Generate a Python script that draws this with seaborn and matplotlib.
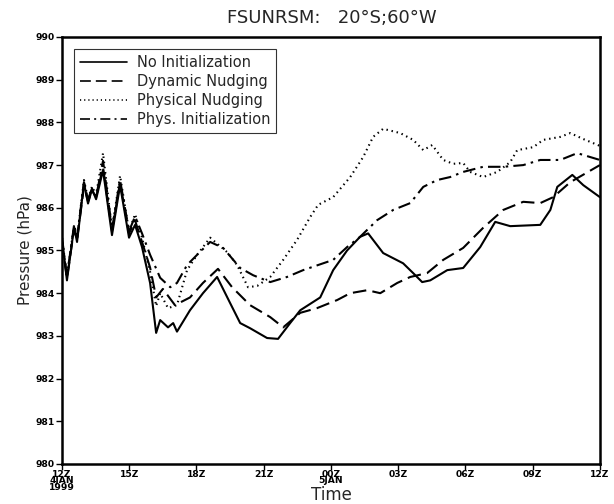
import pandas as pd
import seaborn as sns
from matplotlib import pyplot as plt

# hours since 12Z 4 JAN 1999, pressure in hPa
hours_ni = [0.0, 0.22, 0.54, 0.67, 0.98, 1.16, 1.34, 1.52, 1.83, 2.23, 2.59, 2.99, 3.26, 3.57,
            3.93, 4.2, 4.38, 4.73, 4.96, 5.13, 5.71, 6.29, 6.92, 7.5, 7.95, 8.39, 9.15, 9.64,
            10.18, 10.63, 11.52, 12.1, 12.72, 13.3, 13.66, 14.33, 15.22, 15.67, 16.07, 16.43,
            17.19, 17.9, 18.66, 19.33, 20.0, 21.34, 21.79, 22.1, 22.77, 23.26, 24.0]
p_ni = [985.25, 984.3, 985.55, 985.2, 986.58, 986.1, 986.44, 986.2, 986.88, 985.36, 986.53,
        985.3, 985.6, 985.08, 984.24, 983.07, 983.37, 983.2, 983.3, 983.1, 983.6, 984.0,
        984.38, 983.77, 983.3, 983.18, 982.95, 982.93, 983.3, 983.6, 983.9, 984.54, 985.0,
        985.32, 985.4, 984.94, 984.7, 984.47, 984.26, 984.3, 984.54, 984.59, 985.08, 985.67,
        985.57, 985.6, 985.95, 986.49, 986.77, 986.53, 986.25]

hours_dn = [0.0, 0.22, 0.54, 0.67, 0.98, 1.16, 1.34, 1.52, 1.83, 2.23, 2.59, 2.99, 3.26, 3.57,
            3.93, 4.2, 4.5, 5.04, 5.71, 6.29, 6.96, 7.59, 8.39, 9.29, 9.87, 10.63, 11.38,
            12.28, 12.86, 13.62, 14.2, 14.96, 15.54, 16.29, 17.01, 17.9, 18.79, 19.69, 20.58,
            21.34, 21.92, 22.68, 24.0]
p_dn = [985.2, 984.35, 985.5, 985.25, 986.5, 986.15, 986.4, 986.25, 986.95, 985.45, 986.6,
        985.4, 985.7, 985.2, 984.6, 983.9, 984.1, 983.72, 983.9, 984.24, 984.57, 984.14,
        983.72, 983.44, 983.2, 983.54, 983.65, 983.84, 984.0, 984.07, 984.0, 984.24, 984.38,
        984.47, 984.78, 985.06, 985.53, 985.95, 986.14, 986.11, 986.25, 986.6, 987.0]

hours_pn = [0.0, 0.22, 0.54, 0.67, 0.98, 1.16, 1.34, 1.52, 1.83, 2.23, 2.59, 2.99, 3.26, 3.57,
            3.93, 4.2, 4.38, 4.73, 5.13, 5.58, 6.03, 6.61, 7.37, 7.81, 8.3, 8.71, 9.29, 9.87,
            10.49, 11.07, 11.43, 12.1, 12.86, 13.44, 13.88, 14.33, 15.09, 15.67, 16.12, 16.52,
            17.01, 17.46, 17.9, 18.21, 18.79, 19.42, 20.0, 20.31, 21.03, 21.47, 22.23, 22.68,
            23.26, 24.0]
p_pn = [985.3, 984.4, 985.6, 985.3, 986.65, 986.2, 986.5, 986.3, 987.28, 985.5, 986.75,
        985.45, 985.85, 985.3, 984.5, 983.7, 984.0, 983.65, 983.72, 984.54, 984.9, 985.3,
        984.96, 984.66, 984.14, 984.17, 984.38, 984.78, 985.25, 985.78, 986.07, 986.25,
        986.72, 987.19, 987.66, 987.85, 987.75, 987.59, 987.35, 987.47, 987.12, 987.03,
        987.05, 986.84, 986.72, 986.84, 987.07, 987.35, 987.42, 987.59, 987.66, 987.75,
        987.61, 987.45]

hours_pi = [0.0, 0.22, 0.54, 0.67, 0.98, 1.16, 1.34, 1.52, 1.83, 2.23, 2.59, 2.99, 3.26, 3.57,
            3.93, 4.38, 4.83, 5.13, 5.58, 6.03, 6.61, 7.19, 7.95, 8.53, 9.29, 10.04, 10.76,
            11.43, 12.1, 12.72, 13.3, 14.06, 14.78, 15.54, 16.12, 16.74, 17.32, 17.9, 18.79,
            19.69, 20.58, 21.34, 22.23, 22.99, 24.0]
p_pi = [985.3, 984.4, 985.6, 985.3, 986.6, 986.2, 986.45, 986.25, 987.1, 985.5, 986.65,
        985.45, 985.8, 985.4, 984.9, 984.36, 984.14, 984.24, 984.66, 984.9, 985.2, 985.06,
        984.59, 984.42, 984.26, 984.38, 984.54, 984.66, 984.78, 985.08, 985.32, 985.71,
        985.95, 986.11, 986.49, 986.65, 986.72, 986.84, 986.96, 986.96, 987.0, 987.12,
        987.12, 987.28, 987.12]

tick_hours = [0, 3, 6, 9, 12, 15, 18, 21, 24]
tick_labels = ["12Z\n4JAN\n1999", "15Z", "18Z", "21Z", "00Z\n5JAN", "03Z", "06Z", "09Z", "12Z"]
y_ticks = list(range(980, 991))

sns.set_style("ticks")
plt.rcParams['font.family'] = ['DejaVu Sans']

fig = plt.figure(figsize=(6.14, 5.04), dpi=100)
ax = fig.add_axes([0.101, 0.0794, 0.876, 0.8472])

lw = 1.5
sns.lineplot(x=hours_ni, y=p_ni, color="black", lw=lw, ax=ax, label="No Initialization")
sns.lineplot(x=hours_dn, y=p_dn, color="black", lw=lw, ax=ax, label="Dynamic Nudging")
ax.lines[-1].set_dashes([6.5, 3])
sns.lineplot(x=hours_pn, y=p_pn, color="black", lw=lw, ax=ax, label="Physical Nudging")
ax.lines[-1].set_dashes([0.7, 1.8])
sns.lineplot(x=hours_pi, y=p_pi, color="black", lw=lw, ax=ax, label="Phys. Initialization")
ax.lines[-1].set_dashes([6, 2.5, 1.2, 2.5])

ax.set_xlim(0, 24)
ax.set_ylim(980, 990)
ax.set_xticks(tick_hours)
ax.set_xticklabels(tick_labels, linespacing=0.7)
ax.set_yticks(y_ticks)
tick_font = dict(family=['Liberation Sans Narrow', 'DejaVu Sans'], weight='bold', size=6.6)
for t in ax.get_xticklabels() + ax.get_yticklabels():
    t.set_fontproperties(tick_font)
ax.tick_params(direction='out', length=4, width=1, pad=1, colors='black')
ax.tick_params(axis='x', pad=0)
for s in ax.spines.values():
    s.set_linewidth(1.8)
    s.set_color('black')

ax.set_xlabel("Time", fontsize=12)
ax.xaxis.set_label_coords(0.5, -0.073)
ax.xaxis.label.set_va('center')
ax.set_ylabel("Pressure (hPa)", fontsize=11)
ax.yaxis.set_label_coords(-0.069, 0.5)
ax.yaxis.label.set_va('center')
fig.text(0.54, 0.965, "FSUNRSM:   20°S;60°W", ha='center', va='center', fontsize=13)

leg = ax.legend(loc='upper left', bbox_to_anchor=(0.022, 0.972), borderaxespad=0,
                frameon=True, fancybox=False, handlelength=3.2, handletextpad=0.7,
                borderpad=0.42, labelspacing=0.27, fontsize=10.5)
leg.get_frame().set_edgecolor('black')
leg.get_frame().set_linewidth(0.8)
for h in leg.get_lines():
    h.set_linewidth(1.2)

fig.savefig("out.png", dpi=100)
